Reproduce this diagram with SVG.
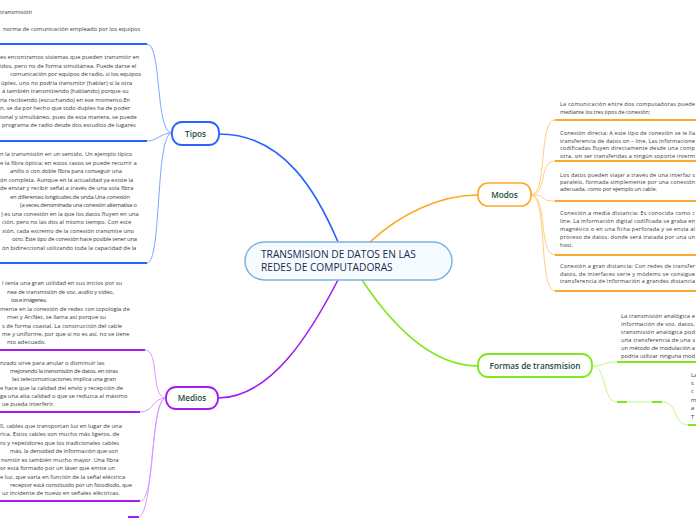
<svg xmlns="http://www.w3.org/2000/svg" width="696" height="520" viewBox="0 0 696 520">
<style>
.t{font-family:"Open Sans","Liberation Sans",sans-serif;font-size:5.8px;fill:#3a3a3a}
.r{font-size:5.6px}
.lbl{font-family:"Open Sans","Liberation Sans",sans-serif;font-size:8.2px;font-weight:600;fill:#1d4a3b;text-anchor:middle}
.title{font-family:"Open Sans","Liberation Sans",sans-serif;font-size:10.2px;font-weight:500;fill:#1b2a4a}
.bl{stroke:#2962ff}.bll{stroke:#7fa4ff}
.or{stroke:#ffa726}.orl{stroke:#ffcd85}
.pu{stroke:#a31cf2}.pul{stroke:#d99bff}
.gr{stroke:#7fe81e}.grl{stroke:#bdf98a}
.ul{stroke-width:2;fill:none}
.cn{stroke-width:1;fill:none}
.mn{stroke-width:1.6;fill:none}
</style>
<rect width="696" height="520" fill="#ffffff"/>
<g id="connectors">
  <path class="mn bl" d="M219,134 C285,134 318,195 338,242"/>
  <path class="mn or" d="M370,242 C400,214 440,195 478,195"/>
  <path class="mn pu" d="M338,280 C312,330 272,398 218,398"/>
  <path class="mn gr" d="M362,280 C392,325 432,366 478,366"/>
  <path class="cn bll" d="M172,133 C155,133 162,44 147,44"/>
  <path class="cn bll" d="M172,133 C160,133 158,141 147,141"/>
  <path class="cn bll" d="M172,133 C155,133 162,263 147,263"/>
  <path class="cn orl" d="M531,195 C548,195 538,120 555,120"/>
  <path class="cn orl" d="M531,195 C548,195 538,161 555,161"/>
  <path class="cn orl" d="M531,195 C548,195 538,201 555,201"/>
  <path class="cn orl" d="M531,195 C548,195 538,255 555,255"/>
  <path class="cn orl" d="M531,195 C548,195 538,291 555,291"/>
  <path class="cn pul" d="M166,398 C150,398 160,350 145,350"/>
  <path class="cn pul" d="M166,398 C152,398 154,412 140,412"/>
  <path class="cn pul" d="M166,398 C150,398 156,501 140,501"/>
  <path class="cn pul" d="M166,398 C150,398 154,517 138,517"/>
  <path class="cn grl" d="M592,366 C604,366 605,362 617,362"/>
  <path class="cn grl" d="M592,366 C607,366 602,402 617,402 L663,402 C678,402 673,425 688,425"/>
  <line class="ul bl" x1="0" y1="44" x2="147" y2="44"/>
  <line class="ul bl" x1="0" y1="141" x2="147" y2="141"/>
  <line class="ul bl" x1="0" y1="263" x2="147" y2="263"/>
  <line class="ul or" x1="555" y1="120" x2="696" y2="120"/>
  <line class="ul or" x1="555" y1="161" x2="696" y2="161"/>
  <line class="ul or" x1="555" y1="201" x2="696" y2="201"/>
  <line class="ul or" x1="555" y1="255" x2="696" y2="255"/>
  <line class="ul or" x1="555" y1="291" x2="696" y2="291"/>
  <line class="ul pu" x1="0" y1="350" x2="145" y2="350"/>
  <line class="ul pu" x1="0" y1="412" x2="140" y2="412"/>
  <line class="ul pu" x1="0" y1="501" x2="140" y2="501"/>
  <line class="ul pu" x1="128" y1="517" x2="139" y2="517"/>
  <line class="ul gr" x1="617" y1="362" x2="696" y2="362"/>
  <line class="ul gr" x1="617" y1="402" x2="627" y2="402"/>
  <line class="ul gr" x1="652" y1="402" x2="662" y2="402"/>
  <line class="ul gr" x1="688" y1="425" x2="696" y2="425"/>
</g>
<g id="central">
  <rect x="245" y="242" width="207" height="38" rx="19" fill="#f6fbff" stroke="#7eb3e0" stroke-width="1.5"/>
  <text class="title" x="261" y="258">TRANSMISION DE DATOS EN LAS</text>
  <text class="title" x="261" y="271">REDES DE COMPUTADORAS</text>
</g>
<g id="tipos">
  <rect x="172" y="122" width="47" height="23" rx="10" fill="#fff" stroke="#2962ff" stroke-width="1.8"/>
  <text class="lbl" x="195.5" y="136.6">Tipos</text>
</g>
<g id="modos">
  <rect x="478" y="183" width="53" height="23" rx="10" fill="#fff" stroke="#ffa726" stroke-width="1.6"/>
  <text class="lbl" x="504.5" y="197.6">Modos</text>
</g>
<g id="medios">
  <rect x="166" y="387" width="52" height="22" rx="10" fill="#fff" stroke="#a31cf2" stroke-width="1.8"/>
  <text class="lbl" x="192" y="401">Medios</text>
</g>
<g id="formas">
  <rect x="478" y="354" width="114" height="23" rx="10" fill="#fff" stroke="#7fe81e" stroke-width="1.8"/>
  <text class="lbl" x="535" y="368.5">Formas de transmision</text>
</g>
<g id="tipos-1">
  <text class="t" x="0" y="14">transmisión</text>
  <text class="t" x="3" y="31">norma de comunicación empleado por los equipos</text>
</g>
<g id="tipos-2">
  <text class="t" x="0" y="59">es encontramos sistemas que pueden transmitir en</text>
  <text class="t" x="0" y="67.5">idos, pero no de forma simultánea. Puede darse el</text>
  <text class="t" x="10" y="76" textLength="131">comunicación por equipos de radio, si los equipos</text>
  <text class="t" x="1" y="84.5">úplex, uno no podría transmitir (hablar) si la otra</text>
  <text class="t" x="2" y="93">á también transmitiendo (hablando) porque su</text>
  <text class="t" x="0" y="101.5">ría recibiendo (escuchando) en ese momento.En</text>
  <text class="t" x="0" y="110">n, se da por hecho que todo duplex ha de poder</text>
  <text class="t" x="0" y="118.5">ional y simultáneo, pues de esta manera, se puede</text>
  <text class="t" x="2" y="127">programa de radio desde dos estudios de lugares</text>
</g>
<g id="tipos-3">
  <text class="t" x="0" y="156">n la transmisión en un sentido. Un ejemplo típico</text>
  <text class="t" x="0" y="164.5">e la fibra óptica; en estos casos se puede recurrir a</text>
  <text class="t" x="10" y="173" textLength="112">anillo o con doble fibra para conseguir una</text>
  <text class="t" x="0" y="181.5">ón completa. Aunque en la actualidad ya existe la</text>
  <text class="t" x="0" y="190">de enviar y recibir señal a través de una sola fibra</text>
  <text class="t" x="10" y="198.5" textLength="120">en diferentes longitudes de onda.Una conexión</text>
  <text class="t" x="20" y="207" textLength="117">(a veces denominada una conexión alternativa o</text>
  <text class="t" x="1" y="215.5">) es una conexión en la que los datos fluyen en una</text>
  <text class="t" x="2" y="224">ción, pero no las dos al mismo tiempo. Con este</text>
  <text class="t" x="2" y="232.5">xión, cada extremo de la conexión transmite uno</text>
  <text class="t" x="12" y="241" textLength="125">otro. Este tipo de conexión hace posible tener una</text>
  <text class="t" x="2" y="249.5">ón bidireccional utilizando toda la capacidad de la</text>
</g>
<g id="medios-1">
  <text class="t" x="2" y="285">l tenía una gran utilidad en sus inicios por su</text>
  <text class="t" x="7" y="293.5" textLength="107">nea de transmisión de voz, audio y video,</text>
  <text class="t" x="11" y="302" textLength="36">tos e imágenes.</text>
  <text class="t" x="0" y="310.5">mente en la conexión de redes con topología de</text>
  <text class="t" x="7" y="319">rnet y ArcNet, se llama así porque su</text>
  <text class="t" x="2" y="327.5">s de forma coaxial. La construcción del cable</text>
  <text class="t" x="2" y="336">me y uniforme, por que si no es así, no se tiene</text>
  <text class="t" x="7" y="344">nto adecuado.</text>
</g>
<g id="medios-2">
  <text class="t" x="0" y="365">nzado sirve para anular o disminuir las</text>
  <text class="t" x="10" y="373" textLength="108">mejorando la transmisión de datos, en otras</text>
  <text class="t" x="12" y="381" textLength="104">las telecomunicaciones implica una gran</text>
  <text class="t" x="0" y="389.5">e hace que la calidad del envío y recepción de</text>
  <text class="t" x="0" y="398">ga una alta calidad o que se reduzca al máximo</text>
  <text class="t" x="2" y="406">ue pueda interferir.</text>
</g>
<g id="medios-3">
  <text class="t" x="0" y="427.5">0, cables que transportan luz en lugar de una</text>
  <text class="t" x="0" y="436">rica. Estos cables son mucho más ligeros, de</text>
  <text class="t" x="0" y="444.5">ro y repetidores que los tradicionales cables</text>
  <text class="t" x="10" y="453" textLength="108">más, la densidad de información que son</text>
  <text class="t" x="1" y="461.5">nsmitir es también mucho mayor. Una fibra</text>
  <text class="t" x="0" y="470">or está formado por un láser que emite un</text>
  <text class="t" x="0" y="478.5">e luz, que varía en función de la señal eléctrica</text>
  <text class="t" x="10" y="487" textLength="122">receptor está constituido por un fotodiodo, que</text>
  <text class="t" x="2" y="495">uz incidente de nuevo en señales eléctricas.</text>
</g>
<g id="modos-1">
  <text class="t r" x="560" y="105.5" textLength="135">La comunicación entre dos computadoras puede</text>
  <text class="t r" x="560" y="113.5" textLength="90">mediante los tres tipos de conexión:</text>
</g>
<g id="modos-2">
  <text class="t r" x="560" y="135" textLength="135">Conexión directa: A este tipo de conexión se le lla</text>
  <text class="t r" x="560" y="142.5" textLength="135">transferencia de datos on – line. Las informacione</text>
  <text class="t r" x="560" y="149.7" textLength="135">codificadas fluyen directamente desde una comp</text>
  <text class="t r" x="560" y="157.5" textLength="135">otra, sin ser transferidas a ningún soporte interm</text>
</g>
<g id="modos-3">
  <text class="t r" x="560" y="177" textLength="135">Los datos pueden viajar a través de una interfaz s</text>
  <text class="t r" x="560" y="184.3" textLength="135">paralelo, formada simplemente por una conexión</text>
  <text class="t r" x="560" y="191.3" textLength="97">adecuada, como por ejemplo un cable.</text>
</g>
<g id="modos-4">
  <text class="t r" x="560" y="215" textLength="135">Conexión a media distancia: Es conocida como c</text>
  <text class="t r" x="560" y="223" textLength="135">line. La información digital codificada se graba en</text>
  <text class="t r" x="560" y="231" textLength="135">magnético o en una ficha perforada y se envía al</text>
  <text class="t r" x="560" y="239" textLength="135">proceso de datos, donde será tratada por una un</text>
  <text class="t r" x="560" y="246.5">host.</text>
</g>
<g id="modos-5">
  <text class="t r" x="560" y="268" textLength="135">Conexión a gran distancia: Con redes de transfer</text>
  <text class="t r" x="560" y="275.5" textLength="135">datos, de interfaces serie y módems se consigue</text>
  <text class="t r" x="560" y="283" textLength="135">transferencia de información a grandes distancia</text>
</g>
<g id="formas-1">
  <text class="t" x="621" y="317.5" textLength="74">La transmisión analógica e</text>
  <text class="t" x="621" y="325.5" textLength="74">información de voz, datos,</text>
  <text class="t" x="621" y="333.5" textLength="74">transmisión analógica pod</text>
  <text class="t" x="621" y="341.5" textLength="74">una transferencia de una s</text>
  <text class="t" x="621" y="349.5" textLength="74">un método de modulación a</text>
  <text class="t" x="621" y="357.5" textLength="74">podría utilizar ninguna mod</text>
</g>
<g id="formas-2">
  <text class="t" x="691" y="377">La</text>
  <text class="t" x="691" y="385">s</text>
  <text class="t" x="691" y="393">c</text>
  <text class="t" x="691" y="402">m</text>
  <text class="t" x="691" y="410">a</text>
  <text class="t" x="691" y="419">T</text>
</g>
</svg>
